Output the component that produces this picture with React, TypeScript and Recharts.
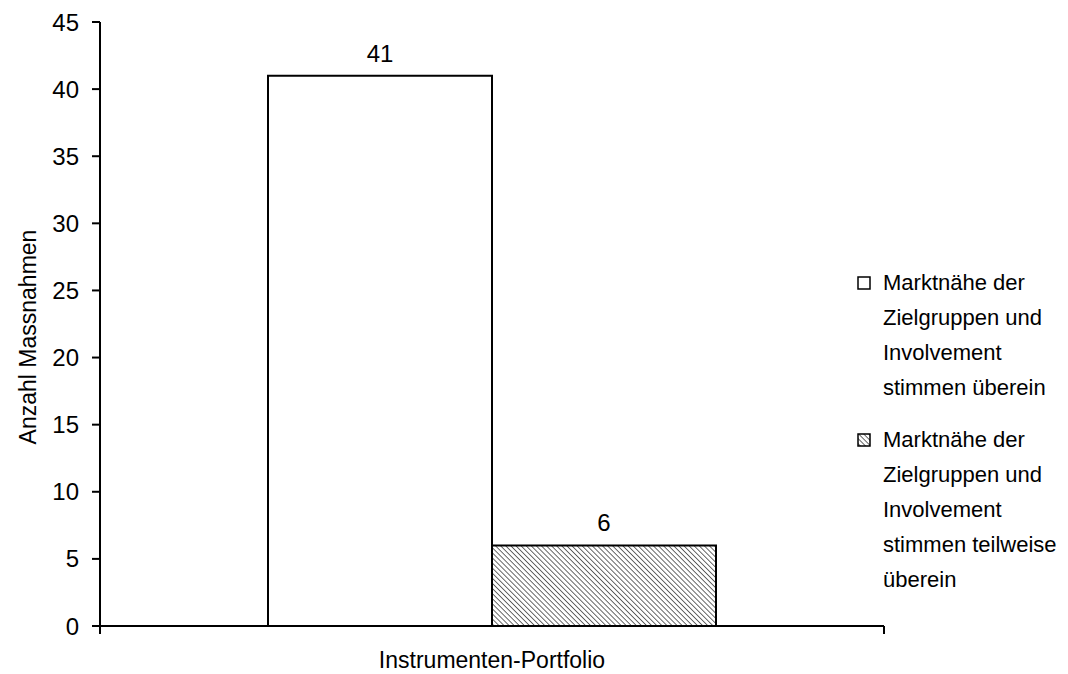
import { BarChart, Bar, XAxis, YAxis, Legend, LabelList, Label } from "recharts";

const categories = ["Instrumenten-Portfolio"];
const seriesKeys = ["full", "partial"];
const seriesNames = [
  "Marktnähe der Zielgruppen und Involvement stimmen überein",
  "Marktnähe der Zielgruppen und Involvement stimmen teilweise überein",
];
const matchFull = [41];
const matchPartial = [6];
const yTicks = [0, 5, 10, 15, 20, 25, 30, 35, 40, 45];

const FONT = "'Liberation Sans', Arial, sans-serif";

const data = categories.map((name, i) => ({
  name,
  full: matchFull[i],
  partial: matchPartial[i],
}));

function HatchDefs({ id }: { id: string }) {
  return (
    <defs>
      <pattern id={id} width={3.6} height={3.6} patternUnits="userSpaceOnUse" patternTransform="rotate(-45)">
        <rect width={3.6} height={3.6} fill="#fff" />
        <line x1={0} y1={0} x2={0} y2={3.6} stroke="#444" strokeWidth={1.6} />
      </pattern>
    </defs>
  );
}

// category label in the middle, tick marks at the band edges (like Excel)
function CategoryTick(props: any) {
  const { x, y, payload } = props;
  const half = payload?.offset ?? 0;
  return (
    <g>
      <line x1={x - half} x2={x - half} y1={y} y2={y + 8} stroke="#000" strokeWidth={2} />
      <line x1={x + half} x2={x + half} y1={y} y2={y + 8} stroke="#000" strokeWidth={2} />
      <text x={x} y={y + 26} dy="0.71em" textAnchor="middle" fontSize={23} fill="#000" fontFamily={FONT}>
        {payload.value}
      </text>
    </g>
  );
}

function LegendContent(props: any) {
  const items = [...(props.payload || [])].sort(
    (a: any, b: any) => seriesKeys.indexOf(a.dataKey) - seriesKeys.indexOf(b.dataKey)
  );
  return (
    <div style={{ fontFamily: FONT, fontSize: 22, lineHeight: "35px", color: "#000" }}>
      {items.map((it: any) => {
        const hatched = it.dataKey === "partial";
        return (
          <div key={it.dataKey} style={{ display: "flex", alignItems: "flex-start", marginBottom: 17 }}>
            <svg width={14} height={14} style={{ marginTop: 11, marginRight: 12, flex: "none" }}>
              {hatched && <HatchDefs id="hatchLegend" />}
              <rect x={1} y={1} width={12} height={12} fill={hatched ? "url(#hatchLegend)" : "#fff"} stroke="#000" strokeWidth={1.5} />
            </svg>
            <span style={{ width: 180 }}>{it.value}</span>
          </div>
        );
      })}
    </div>
  );
}

export default function App() {
  return (
    <div style={{ width: 1060, height: 666, background: "#fff" }}>
      <BarChart
        width={1060}
        height={666}
        data={data}
        margin={{ top: 14, right: 184, bottom: 8, left: 0 }}
        barGap={0}
        style={{ fontFamily: FONT }}
      >
        <HatchDefs id="hatchBar" />
        <XAxis
          dataKey="name"
          height={40}
          axisLine={{ stroke: "#000", strokeWidth: 2 }}
          tickLine={false}
          tickSize={0}
          tickMargin={0}
          tick={<CategoryTick />}
        />
        <YAxis
          width={92}
          domain={[0, 45]}
          ticks={yTicks}
          interval={0}
          tickSize={8}
          tickMargin={13}
          tick={{ fontSize: 24, fill: "#000" }}
          axisLine={{ stroke: "#000", strokeWidth: 2 }}
          tickLine={{ stroke: "#000", strokeWidth: 2 }}
        >
          <Label
            content={() => (
              <text
                x={20}
                y={329}
                transform="rotate(-90 20 329)"
                textAnchor="middle"
                dominantBaseline="central"
                fontSize={23}
                fill="#000"
                fontFamily={FONT}
              >
                Anzahl Massnahmen
              </text>
            )}
          />
        </YAxis>
        <Legend
          layout="vertical"
          align="center"
          verticalAlign="middle"
          width={210}
          wrapperStyle={{ left: 849, top: 257 }}
          content={LegendContent}
        />
        <Bar dataKey="full" name={seriesNames[0]} barSize={224} fill="#fff" stroke="#000" strokeWidth={2} isAnimationActive={false}>
          <LabelList dataKey="full" position="top" offset={14} fontSize={24} fill="#000" />
        </Bar>
        <Bar dataKey="partial" name={seriesNames[1]} barSize={224} fill="url(#hatchBar)" stroke="#000" strokeWidth={2} isAnimationActive={false}>
          <LabelList dataKey="partial" position="top" offset={14} fontSize={24} fill="#000" />
        </Bar>
      </BarChart>
    </div>
  );
}
